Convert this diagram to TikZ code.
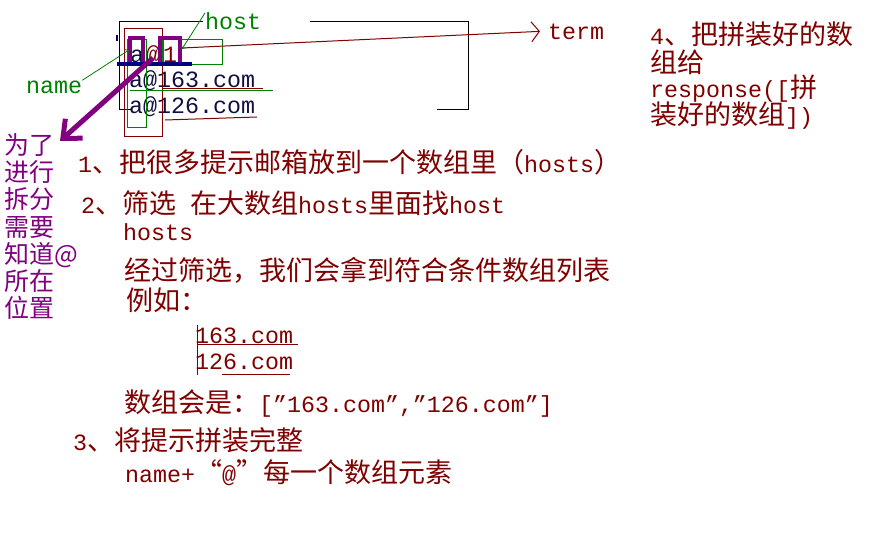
\documentclass[tikz,border=0pt]{standalone}
\usepackage{fontspec}
\setmainfont{Liberation Mono}
\newfontfamily\cjkfont{Noto Sans CJK SC}
\usetikzlibrary{arrows.meta}
\definecolor{dred}{HTML}{800000}
\definecolor{gr}{HTML}{008000}
\definecolor{pur}{HTML}{800080}
\definecolor{nav}{HTML}{000080}
\definecolor{tnav}{HTML}{101040}
\newcommand\zh[1]{{\fontsize{27}{30}\selectfont\cjkfont #1}}
\newcommand\mainsz{\fontsize{23.3}{27}\selectfont}
\begin{document}
\begin{tikzpicture}[x=1pt,y=-1pt,
  txt/.style={anchor=base west, inner sep=0pt, font=\mainsz, text=dred},
  ptxt/.style={anchor=base west, inner sep=0pt, font=\fontsize{25}{27}\selectfont\cjkfont, text=pur},
  thin line/.style={line width=1pt},
  bold box/.style={line width=3.5pt, pur},
  small tip/.style={-{Straight Barb[length=3pt,width=6pt]}}]
\fill[white] (0,0) rectangle (884,546);
\useasboundingbox (0,0) rectangle (884,546);

% bracket round the list
\draw[black, thin line] (437,109) -- (468,109) -- (468,21) -- (310,21);
\draw[black, thin line] (203,21) -- (119,21) -- (119,109) -- (132,109);

% list of e-mails
\node[txt, text=tnav] (r0) at (130,62) {a\hspace{2pt}\textcolor{dred}{@\hspace{3pt}1}};
\node[txt, text=tnav] (r1) at (129,87) {a@163.com};
\node[txt, text=tnav] (r2) at (129,113) {a@126.com};

% boxes and marks
\draw[dred, thin line] (124,28) rectangle (162,136);
\draw[gr, thin line] (127,39) rectangle (146,127);
\draw[gr, thin line] (160,39) rectangle (222,64);
\draw[bold box] (130,38) rectangle (143,64);
\draw[bold box] (160,38) rectangle (180,64);
\draw[gr, line width=2pt] (163,40) -- (163,63);
\draw[nav, line width=3.5pt] (117,64) -- (192,64);
\draw[nav, line width=2pt] (117,35) -- (117,41);
\draw[gr, thin line] (130,90) -- (273,90);
\draw[dred, thin line] (162,88) -- (263,88);
\draw[dred, thin line] (165,120) -- (257,117);

% labels
\node[txt, text=gr] (hostlbl) at (205,30) {host};
\node[txt, text=gr] (namelbl) at (26,93) {name};
\node[txt, inner xsep=8pt] (term) at (540,39) {term};

\coordinate (one) at (182,48);
\coordinate (hosttip) at (182,49);
\coordinate (nametip) at (129,50);
\coordinate (atc) at (153,58);
\coordinate (ptip) at (60,141);

\draw[dred, thin line, -{Straight Barb[length=8pt,width=20pt]}] (one) -- (term.west);
\draw[gr, line width=0.8pt, small tip] (hostlbl.north west) -- (hosttip);
\draw[gr, line width=0.8pt, small tip] (namelbl.north east) -- (nametip);

% left purple column
\node[ptxt] (p1) at (4,154) {为了};
\node[ptxt] (p2) at (4,181) {进行};
\node[ptxt] (p3) at (4,208) {拆分};
\node[ptxt] (p4) at (4,236) {需要};
\node[ptxt] (p5) at (4,263) {知道@};
\node[ptxt] (p6) at (4,290) {所在};
\node[ptxt] (p7) at (4,317) {位置};

\draw[pur, line width=5pt, -{Straight Barb[length=15pt,width=26pt]}] (atc) -- (ptip);

% main text
\node[txt] (l1) at (78,172) {1\zh{、把很多提示邮箱放到一个数组里（}hosts\zh{）}};
\node[txt] (l2) at (81,213) {2\zh{、筛选} \zh{在大数组}hosts\zh{里面找}host};
\node[txt] (l3) at (123,240) {hosts};
\node[txt] (l4) at (124,280) {\zh{经过筛选，我们会拿到符合条件数组列表}};
\node[txt] (l5) at (126,310) {\zh{例如：}};
\node[txt] (e1) at (195,343) {163.com};
\node[txt] (e2) at (195,369) {126.com};
\draw[dred, thin line] (197,325) -- (197,375);
\draw[dred, thin line] (197,344) -- (298,344);
\draw[dred, thin line] (222,374) -- (290,374);
\node[txt] (l8) at (124,412) {\zh{数组会是：}["163.com","126.com"]};
\node[txt] (l9) at (73,450) {3\zh{、将提示拼装完整}};
\node[txt] (l10) at (125,482) {name+\zh{“}@\zh{”每一个数组元素}};

% right text
\node[txt] (s1) at (650,45) {4\zh{、把拼装好的数}};
\node[txt] (s2) at (650,72) {\zh{组给}};
\node[txt] (s3) at (650,97) {response([\zh{拼}};
\node[txt] (s4) at (650,124) {\zh{装好的数组}])};
\end{tikzpicture}
\end{document}
